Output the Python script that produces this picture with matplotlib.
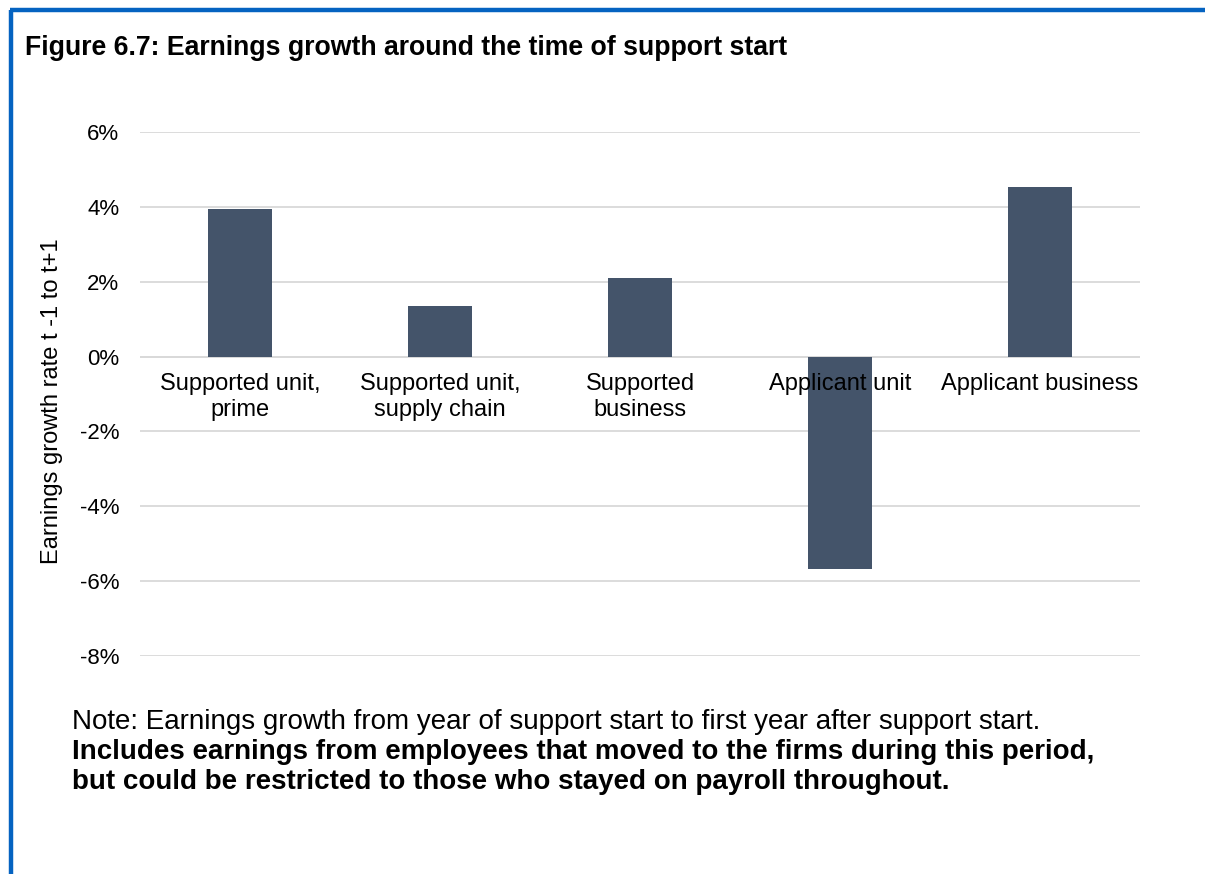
import matplotlib
matplotlib.use("Agg")
import matplotlib.pyplot as plt
from matplotlib.lines import Line2D
from matplotlib.ticker import FuncFormatter

plt.rcParams['font.family'] = ['Liberation Sans', 'DejaVu Sans']

categories = ["Supported unit,\nprime", "Supported unit,\nsupply chain",
              "Supported\nbusiness", "Applicant unit", "Applicant business"]
growth = [3.95, 1.36, 2.11, -5.68, 4.53]
yticks = [6, 4, 2, 0, -2, -4, -6, -8]

W, H = 1205, 874
fig = plt.figure(figsize=(W / 100, H / 100), dpi=100)

# blue frame along the top and left edge
fig.add_artist(Line2D([11 / W, 11 / W], [0, 1 - 9.5 / H], transform=fig.transFigure,
                      color="#0563C1", lw=3.2, solid_capstyle="butt"))
fig.add_artist(Line2D([9.5 / W, 1], [1 - 9.5 / H, 1 - 9.5 / H], transform=fig.transFigure,
                      color="#0563C1", lw=3.2, solid_capstyle="butt"))

fig.text(25 / W, 1 - 48 / H, "Figure 6.7: Earnings growth around the time of support start",
         fontsize=19.2, fontweight="bold", va="center", ha="left")

ax = fig.add_axes([140 / W, 1 - 656 / H, 1000 / W, 524 / H])
x = list(range(len(categories)))
ax.bar(x, growth, width=0.32, color="#44546A", zorder=3)
ax.set_xlim(-0.5, len(categories) - 0.5)
ax.set_ylim(-8, 6)
ax.set_yticks(yticks)
ax.yaxis.set_major_formatter(FuncFormatter(lambda v, p: f"{v:.0f}%"))
ax.grid(axis="y", color="#D9D9D9", lw=1.3, zorder=0)
ax.set_axisbelow(True)
for s in ax.spines.values():
    s.set_visible(False)
ax.tick_params(axis="y", length=0, pad=15, labelsize=16)
ax.set_xticks([])
ax.axhline(0, color="#D9D9D9", lw=1.3, zorder=2)

for xi, lab in zip(x, categories):
    ax.annotate(lab, xy=(xi, 0), xytext=(0, -12), textcoords="offset points",
                ha="center", va="top", fontsize=17, linespacing=1.25, zorder=4)

ax.set_ylabel("Earnings growth rate t -1 to t+1", fontsize=17)
ax.yaxis.set_label_coords(-0.077, 0.487)

fig.text(72 / W, 1 - 722 / H,
         "Note: Earnings growth from year of support start to first year after support start.",
         fontsize=20, va="center", ha="left")
fig.text(72 / W, 1 - 752 / H,
         "Includes earnings from employees that moved to the firms during this period,",
         fontsize=20, fontweight="bold", va="center", ha="left")
fig.text(72 / W, 1 - 782 / H,
         "but could be restricted to those who stayed on payroll throughout.",
         fontsize=20, fontweight="bold", va="center", ha="left")

fig.savefig("out.png", dpi=100, facecolor="white")
